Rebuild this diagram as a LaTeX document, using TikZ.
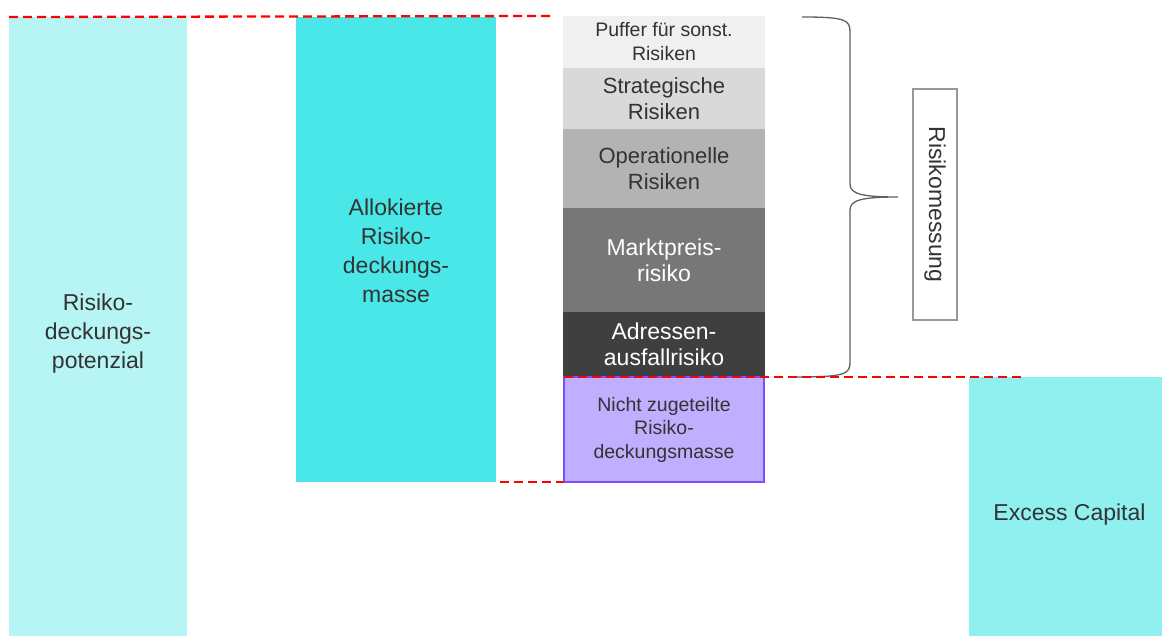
\documentclass[tikz,border=0pt]{standalone}
\usepackage{fontspec}
\setmainfont{Liberation Sans}
\usetikzlibrary{positioning}

\definecolor{potcol}{HTML}{B7F4F4}
\definecolor{allocol}{HTML}{49E7E7}
\definecolor{excol}{HTML}{8FF0EF}
\definecolor{puffcol}{HTML}{F0F0F0}
\definecolor{stratcol}{HTML}{D9D9D9}
\definecolor{opcol}{HTML}{B3B3B3}
\definecolor{marktcol}{HTML}{777777}
\definecolor{adrcol}{HTML}{3F3F3F}
\definecolor{freecol}{HTML}{C0AEFF}
\definecolor{freeline}{HTML}{7B4DFF}
\definecolor{txtcol}{HTML}{333333}
\definecolor{bracecol}{HTML}{606060}

\tikzset{
  bar/.style={anchor=north west, inner sep=0pt, outer sep=0pt},
  bartext/.style={align=center, text=txtcol, font=\fontsize{23}{29}\selectfont},
  riskbox/.style={minimum width=202pt, inner sep=0pt, outer sep=0pt, align=center,
    text=txtcol, font=\fontsize{22}{26}\selectfont},
  limit/.style={red, line width=2.3pt, dash pattern=on 9pt off 5pt},
}

\begin{document}
\begin{tikzpicture}[x=1pt,y=-1pt]
  \useasboundingbox (0,0) rectangle (1162,636);

  % Deckungspotenzial und Allokation
  \node[bar,fill=potcol,minimum width=178pt,minimum height=619pt,
    label={[bartext,yshift=-7pt]center:Risiko-\\deckungs-\\potenzial}] (pot) at (9,17) {};
  \node[bar,fill=allocol,minimum width=200pt,minimum height=465pt,
    label={[bartext,yshift=-1pt]center:Allokierte\\Risiko-\\deckungs-\\masse}] (allo) at (296,17) {};
  \node[bar,fill=excol,minimum width=193pt,minimum height=259pt,
    label={[bartext,yshift=-8pt,xshift=4pt]center:Excess Capital}] (excess) at (969,377) {};

  % Risikoarten, von oben nach unten
  \node[riskbox,fill=puffcol,minimum height=52pt,anchor=north west,
    font=\fontsize{19.5}{24}\selectfont] (puffer) at (563,16)
    {Puffer für sonst.\\Risiken};
  \node[riskbox,fill=stratcol,minimum height=61pt,below=0pt of puffer] (strat)
    {Strategische\\Risiken};
  \node[riskbox,fill=opcol,minimum height=79pt,below=0pt of strat] (oprisk)
    {Operationelle\\Risiken};
  \node[riskbox,fill=marktcol,minimum height=104pt,below=0pt of oprisk,text=white,
    font=\fontsize{23}{26}\selectfont] (markt)
    {Marktpreis-\\risiko};
  \node[riskbox,fill=adrcol,minimum height=65pt,below=0pt of markt,text=white,
    font=\fontsize{23}{26}\selectfont] (adr)
    {Adressen-\\ausfallrisiko};
  \node[riskbox,fill=freecol,draw=freeline,line width=2pt,minimum width=200pt,
    minimum height=105pt,below=0pt of adr,font=\fontsize{19.5}{23.5}\selectfont] (free)
    {Nicht zugeteilte\\Risiko-\\deckungsmasse};

  % Klammer und Beschriftung
  \draw[bracecol,line width=1.3pt] (802,17) .. controls (846,17) and (850,20) .. (850,32)
    -- (850,184) .. controls (850,194) and (862,197) .. (898,197)
    .. controls (862,197) and (850,200) .. (850,210)
    -- (850,362) .. controls (850,374) and (846,377) .. (795,377);
  \node[draw=gray!80,line width=1.2pt,rotate=-90,minimum width=231pt,minimum height=44pt,
    inner sep=0pt,text=txtcol,font=\fontsize{23}{29}\selectfont] (mess) at (935,204.5)
    {Risikomessung};

  % Grenzlinien
  \draw[limit] (pot.north west) -- ([xshift=-8pt]puffer.north west);
  \draw[limit] (free.north west) -- ([xshift=55pt]excess.north west);
  \draw[limit] ([xshift=4pt]allo.south east) -- (free.south west);
\end{tikzpicture}
\end{document}
